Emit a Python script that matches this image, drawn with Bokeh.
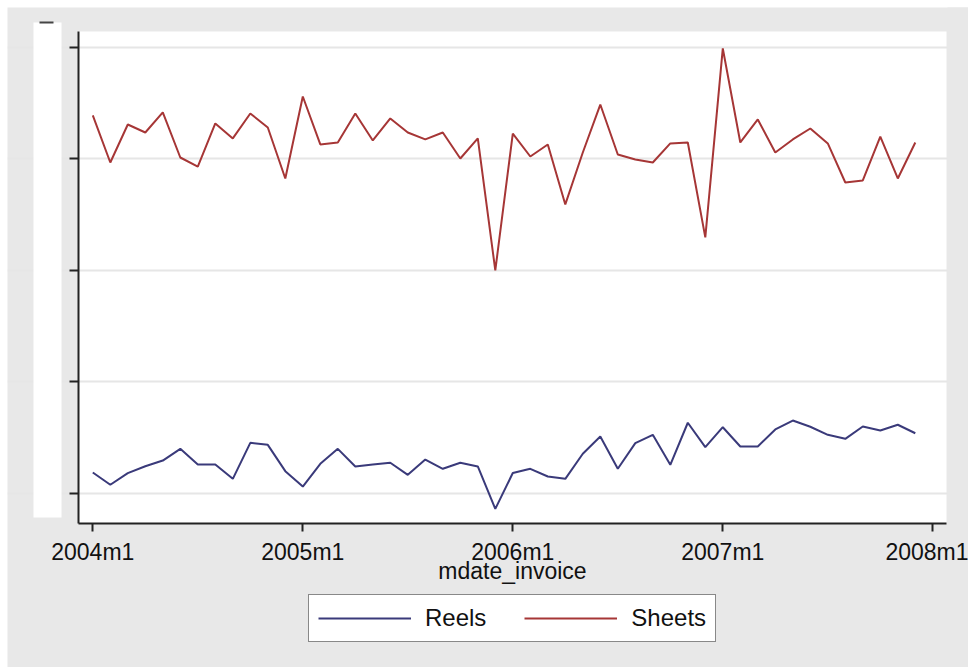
from bokeh.plotting import figure
from bokeh.models import (Legend, LegendItem, FixedTicker, ColumnDataSource,
                          Range1d, BoxAnnotation)
from bokeh.embed import file_html
from bokeh.resources import INLINE

# ---- data -------------------------------------------------------------
months = [f"{yr}m{mo}" for yr in range(2004, 2008) for mo in range(1, 13)]

reels = [184, 74, 178, 240, 291, 396, 256, 256, 127, 450, 432, 196,
         58, 262, 396, 238, 256, 271, 163, 300, 217, 271, 238, -142,
         179, 217, 148, 127, 352, 507, 217, 447, 522, 253, 630, 411,
         590, 417, 417, 570, 650, 594, 522, 486, 596, 561, 612, 536]

sheets = [3386, 2964, 3305, 3233, 3413, 3009, 2928, 3314, 3180, 3404, 3278, 2821,
          3556, 3126, 3144, 3404, 3162, 3359, 3233, 3171, 3233, 3000, 3180, 1996,
          3224, 3018, 3126, 2588, 3054, 3484, 3036, 2991, 2964, 3135, 3144, 2292,
          3987, 3144, 3350, 3054, 3171, 3269, 3135, 2785, 2803, 3197, 2821, 3144]

xtick_pos = [0, 12, 24, 36, 48]
xtick_labels = ["2004m1", "2005m1", "2006m1", "2007m1", "2008m1"]
ytick_pos = [0, 1000, 2000, 3000, 4000]
series_names = ["Reels", "Sheets"]
x_title = "mdate_invoice"

# ---- layout geometry (canvas pixels) -----------------------------------
W, H = 961, 660                 # whole gray graph region
X0_PX, PX_PER_MONTH = 85.3, 17.5
Y0_PX, PX_PER_UNIT = 485.5, 0.1115


def px2x(px):
    return (px - X0_PX) / PX_PER_MONTH


def px2y(py):
    return (Y0_PX - py) / PX_PER_UNIT


PLOT_L, PLOT_R, PLOT_T, PLOT_B = px2x(71), px2x(939), px2y(24), px2y(516)

FONT = "Liberation Sans"
BG = "#e8e8e8"
REELS_C = "#3a3a7a"
SHEETS_C = "#a63636"
INK = "#222222"

src = ColumnDataSource(dict(x=list(range(len(months))), month=months,
                            reels=reels, sheets=sheets))

p = figure(width=W, height=H, output_backend="svg", toolbar_location=None,
           x_range=Range1d(px2x(0), px2x(W)), y_range=Range1d(px2y(H), px2y(0)),
           min_border=0, margin=(7, 0, 0, 7))
p.background_fill_color = BG
p.border_fill_color = BG
p.outline_line_color = None

# white plot region
p.add_layout(BoxAnnotation(left=PLOT_L, right=PLOT_R, bottom=PLOT_B, top=PLOT_T,
                           fill_color="white", fill_alpha=1, line_color=None,
                           level="image"))
# gray margin right of the plot region (hides grid lines there, above the axis only)
p.add_layout(BoxAnnotation(left=PLOT_R + 0.06, right=px2x(W + 5), bottom=px2y(513),
                           top=px2y(-5), fill_color=BG, fill_alpha=1,
                           line_color=None, level="annotation"))
# white strip where the y labels were
p.add_layout(BoxAnnotation(left=px2x(26), right=px2x(54), top=px2y(15),
                           bottom=px2y(510), fill_color="white", fill_alpha=1,
                           line_color=None, level="annotation"))
p.add_layout(BoxAnnotation(left=px2x(32), right=px2x(46), top=px2y(14),
                           bottom=px2y(16), fill_color="#444444", fill_alpha=1,
                           line_color=None, level="overlay"))

r1 = p.line("x", "reels", source=src, line_color=REELS_C, line_width=2)
r2 = p.line("x", "sheets", source=src, line_color=SHEETS_C, line_width=2)

# x axis
xa = p.xaxis[0]
xa.fixed_location = PLOT_B
xa.bounds = (PLOT_L, PLOT_R)
xa.ticker = FixedTicker(ticks=xtick_pos)
xa.major_label_overrides = {t: l for t, l in zip(xtick_pos, xtick_labels)}
xa.minor_tick_line_color = None
xa.major_tick_in = 0
xa.major_tick_out = 8
xa.major_tick_line_width = 2
xa.major_tick_line_color = INK
xa.axis_line_width = 2
xa.axis_line_color = INK
xa.major_label_text_font = FONT
xa.major_label_text_font_size = "23px"
xa.major_label_text_color = "#111111"
xa.major_label_standoff = 7
xa.axis_label = x_title
xa.axis_label_text_font = FONT
xa.axis_label_text_font_size = "23px"
xa.axis_label_text_font_style = "normal"
xa.axis_label_text_color = "#111111"
xa.axis_label_standoff = -10

# y axis (labels hidden)
ya = p.yaxis[0]
ya.fixed_location = PLOT_L
ya.bounds = (PLOT_B, PLOT_T)
ya.ticker = FixedTicker(ticks=ytick_pos)
ya.minor_tick_line_color = None
ya.major_tick_in = 0
ya.major_tick_out = 9
ya.major_tick_line_width = 2
ya.major_tick_line_color = INK
ya.axis_line_width = 2
ya.axis_line_color = INK
ya.major_label_text_font_size = "0px"
ya.major_label_text_alpha = 0

p.xgrid.grid_line_color = None
p.ygrid.ticker = FixedTicker(ticks=ytick_pos)
p.ygrid.grid_line_color = "#e6e6e6"
p.ygrid.grid_line_width = 2

# legend below the axis (bottom-left corner relative to the frame)
legend = Legend(items=[LegendItem(label=series_names[0], renderers=[r1]),
                       LegendItem(label=series_names[1], renderers=[r2])],
                orientation="horizontal", location=(301, 25),
                border_line_color="#111111", border_line_width=1.5,
                background_fill_color="white", background_fill_alpha=1,
                label_text_font=FONT, label_text_font_size="24px",
                label_text_color="#111111",
                glyph_width=93, glyph_height=20, label_height=20,
                label_standoff=14, spacing=38, padding=9, margin=0)
p.add_layout(legend, "center")

open("out.html", "w").write(file_html(p, INLINE))
